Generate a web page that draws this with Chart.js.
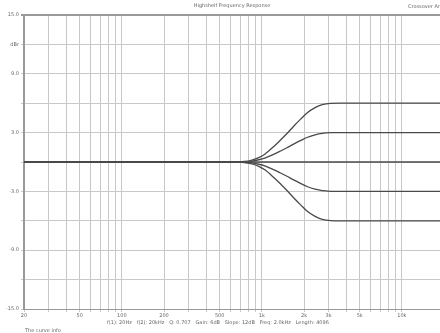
<!DOCTYPE html>
<html>
<head>
<meta charset="utf-8">
<script src="https://cdn.jsdelivr.net/npm/chart.js@4/dist/chart.umd.min.js"></script>
<style>
  html, body { margin: 0; padding: 0; background: #fff; overflow: hidden; }
  #wrap { width: 448px; height: 333px; }
</style>
</head>
<body>
<div id="wrap"><canvas id="shelfChart"></canvas></div>
<script>
// Frequencies (Hz) where the curves were read
const freqs = [20, 600, 750, 850, 950, 1050, 1200, 1350, 1500, 1700, 1900, 2100, 2400, 2700, 3100, 3600, 20000];

// Gain curves (dB)
const boost6 = [0, 0, 0.05, 0.2, 0.45, 0.8, 1.5, 2.2, 2.85, 3.7, 4.4, 5.0, 5.55, 5.85, 5.98, 6, 6];
const boost3 = [0, 0, 0.03, 0.1, 0.23, 0.4, 0.75, 1.1, 1.43, 1.85, 2.2, 2.5, 2.78, 2.93, 2.99, 3, 3];
const flat0  = [0, 0, 0, 0, 0, 0, 0, 0, 0, 0, 0, 0, 0, 0, 0, 0, 0];
const cut3   = [0, 0, -0.03, -0.1, -0.23, -0.4, -0.75, -1.1, -1.43, -1.85, -2.2, -2.5, -2.78, -2.93, -2.99, -3, -3];
const cut6   = [0, 0, -0.05, -0.2, -0.45, -0.8, -1.5, -2.2, -2.85, -3.7, -4.4, -5.0, -5.55, -5.85, -5.98, -6, -6];

// Tick marks / labels
const freqTicks = [20, 30, 40, 50, 60, 70, 80, 90,
  100, 200, 300, 400, 500, 600, 700, 800, 900,
  1000, 2000, 3000, 4000, 5000, 6000, 7000, 8000, 9000, 10000, 20000];
const freqLabels = {20: '20', 50: '50', 100: '100', 200: '200', 500: '500',
  1000: '1k', 2000: '2k', 3000: '3k', 5000: '5k', 10000: '10k'};

const toPoints = (vals) => freqs.map((f, i) => ({ x: f, y: vals[i] }));
const series = [boost6, boost3, flat0, cut3, cut6];

// extra captions round the plot
const captions = {
  id: 'captions',
  afterDraw(chart) {
    const ctx = chart.ctx;
    ctx.save();
    ctx.fillStyle = '#666';
    ctx.font = '5px "DejaVu Sans"';
    ctx.textBaseline = 'middle';
    ctx.textAlign = 'center';
    ctx.fillText('Highshelf Frequency Response', 232, 6);
    ctx.textAlign = 'left';
    ctx.fillText('Crossover Analyzer', 408, 7);
    ctx.fillText('f(1): 20Hz   f(2): 20kHz   Q: 0.707   Gain: 6dB   Slope: 12dB   Freq: 2.0kHz   Length: 4096', 107, 323);
    ctx.fillText('The curve info', 25, 331);
    ctx.restore();
  }
};

const ctx = document.getElementById('shelfChart').getContext('2d');
const shelfChart = new Chart(ctx, {
  type: 'line',
  data: {
    datasets: series.map(s => ({
      data: toPoints(s),
      borderColor: '#4a4a4a',
      borderWidth: 1.3,
      pointRadius: 0,
      cubicInterpolationMode: 'monotone',
      fill: false
    }))
  },
  options: {
    responsive: true,
    maintainAspectRatio: false,
    animation: false,
    layout: { padding: { top: 15, right: 4, left: 0, bottom: 0 } },
    plugins: {
      legend: { display: false },
      tooltip: { enabled: false }
    },
    scales: {
      x: {
        type: 'logarithmic',
        min: 20,
        max: 20000,
        afterBuildTicks: (scale) => { scale.ticks = freqTicks.map(v => ({ value: v })); },
        afterFit: (scale) => { scale.height = 24; },
        grid: {
          color: '#c8c8c8',
          lineWidth: 1,
          tickLength: 3
        },
        border: { color: '#999', width: 1 },
        ticks: {
          autoSkip: false,
          maxRotation: 0,
          padding: 1,
          color: '#666',
          font: { size: 5, family: 'DejaVu Sans' },
          callback: (v) => freqLabels[v] || ''
        }
      },
      y: {
        min: -15,
        max: 15,
        afterFit: (scale) => { scale.width = 24; },
        grid: {
          color: (c) => c.tick && c.tick.value === 15 ? '#999' : '#c8c8c8',
          lineWidth: (c) => c.tick && c.tick.value === 15 ? 2 : 1,
          tickLength: 3
        },
        border: { color: '#999', width: 2 },
        ticks: {
          stepSize: 3,
          padding: 2,
          color: '#666',
          font: { size: 5, family: 'DejaVu Sans' },
          callback: (v) => {
            if (v === 12) return 'dBr';
            return (v + 15) % 6 === 0 ? v.toFixed(1) : '';
          }
        }
      }
    }
  },
  plugins: [captions]
});
</script>
</body>
</html>
